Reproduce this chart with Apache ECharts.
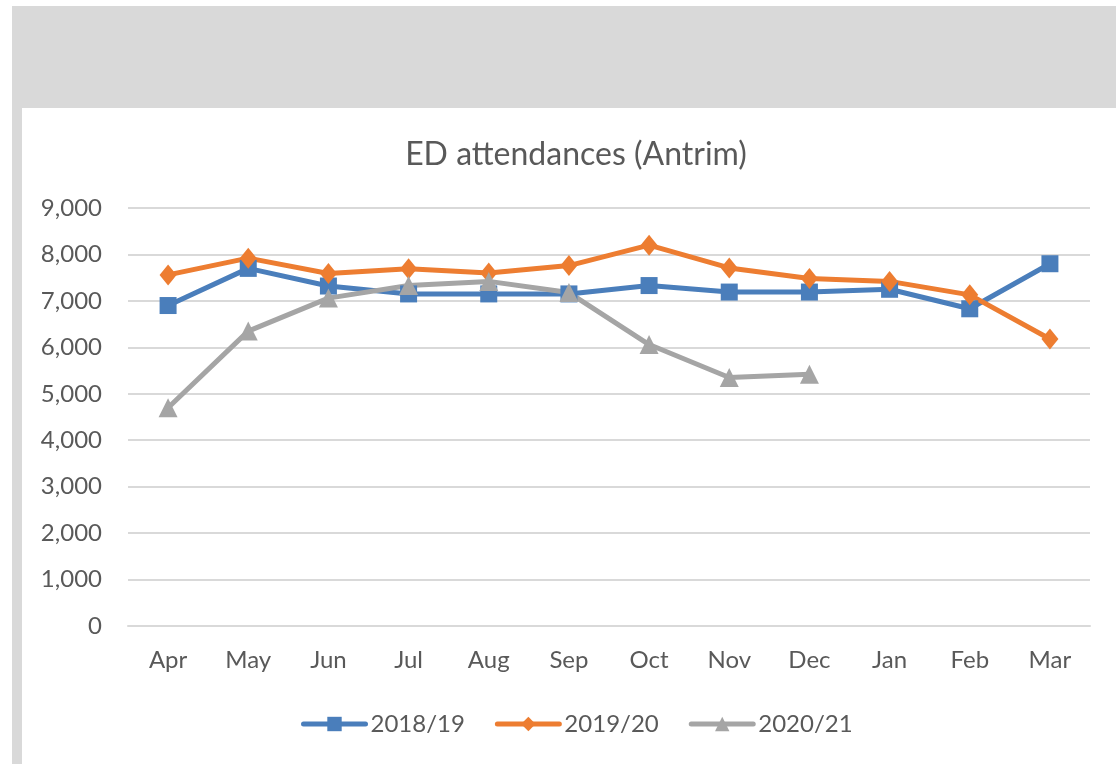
<!DOCTYPE html>
<html>
<head>
<meta charset="utf-8">
<style>
  html, body { margin: 0; padding: 0; background: #ffffff; }
  #chart { width: 1116px; height: 764px; }
</style>
<script src="https://cdn.jsdelivr.net/npm/echarts@6/dist/echarts.min.js"></script>
</head>
<body>
<div id="chart"></div>
<script>
// Monthly ED attendances at Antrim, by financial year
const months = ['Apr', 'May', 'Jun', 'Jul', 'Aug', 'Sep', 'Oct', 'Nov', 'Dec', 'Jan', 'Feb', 'Mar'];
const fy2018 = [6900, 7700, 7320, 7150, 7150, 7150, 7330, 7190, 7190, 7250, 6830, 7800];
const fy2019 = [7560, 7920, 7590, 7690, 7600, 7760, 8200, 7710, 7480, 7420, 7130, 6180];
const fy2020 = [4700, 6350, 7060, 7330, 7420, 7180, 6060, 5350, 5420, null, null, null];
const seriesNames = ['2018/19', '2019/20', '2020/21'];

const FONT = 'Lato, "Noto Sans", sans-serif';
const TEXT = '#595959';

const chart = echarts.init(document.getElementById('chart'), null, { renderer: 'canvas' });

function lineSeries(name, data, color, symbol, size) {
  return {
    name: name,
    type: 'line',
    data: data,
    symbol: symbol,
    symbolSize: size,
    showAllSymbol: true,
    connectNulls: false,
    lineStyle: { color: color, width: 5, cap: 'round', join: 'round' },
    itemStyle: { color: color, borderWidth: 0 },
    emphasis: { disabled: true },
    z: 3
  };
}

chart.setOption({
  animation: false,
  backgroundColor: '#ffffff',
  graphic: [
    { type: 'rect', shape: { x: 12, y: 6, width: 1104, height: 102 }, style: { fill: '#d9d9d9' }, silent: true, z: -10 },
    { type: 'rect', shape: { x: 12, y: 108, width: 10, height: 656 }, style: { fill: '#d9d9d9' }, silent: true, z: -10 }
  ],
  title: {
    text: 'ED attendances (Antrim)',
    left: 571,
    textAlign: 'center',
    top: 134,
    textStyle: { fontFamily: FONT, fontSize: 32, fontWeight: 'normal', color: TEXT }
  },
  legend: {
    data: seriesNames,
    left: 296,
    top: 707,
    itemWidth: 62,
    itemHeight: 18,
    itemGap: 30,
    lineStyle: { width: 5, cap: 'round' },
    textStyle: { fontFamily: FONT, fontSize: 24, color: TEXT }
  },
  grid: { left: 128, right: 26, top: 208, bottom: 138 },
  xAxis: {
    type: 'category',
    data: months,
    boundaryGap: true,
    axisLine: { show: true, lineStyle: { color: '#d9d9d9', width: 2 } },
    axisTick: { show: false },
    axisLabel: { fontFamily: FONT, fontSize: 24, color: TEXT, margin: 22 }
  },
  yAxis: {
    type: 'value',
    min: 0,
    max: 9000,
    interval: 1000,
    axisLine: { show: false },
    axisTick: { show: false },
    splitLine: { lineStyle: { color: '#d9d9d9', width: 2 } },
    axisLabel: {
      fontFamily: FONT, fontSize: 24, color: TEXT, margin: 26,
      formatter: v => v.toLocaleString('en-US')
    }
  },
  series: [
    lineSeries(seriesNames[0], fy2018, '#4a7ebb', 'rect', 17),
    lineSeries(seriesNames[1], fy2019, '#ed7d31', 'diamond', [17, 21]),
    lineSeries(seriesNames[2], fy2020, '#a5a5a5', 'triangle', 19)
  ]
});
</script>
</body>
</html>
